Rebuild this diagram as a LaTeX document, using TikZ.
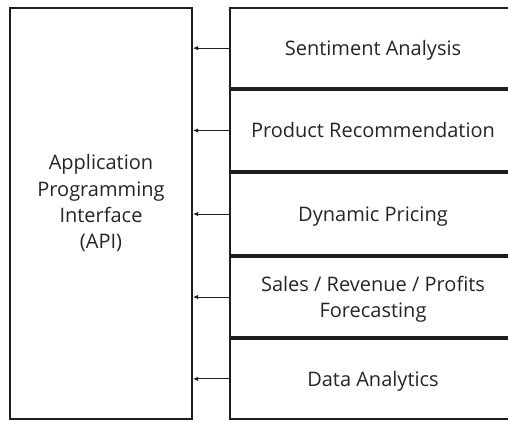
\documentclass[tikz,border=0pt]{standalone}
\usepackage{fontspec}
\setmainfont{Open Sans}
\usetikzlibrary{arrows.meta}
\definecolor{ink}{HTML}{1E1E1E}
\definecolor{txt}{HTML}{262626}
\tikzset{
  box/.style={draw=ink, line width=2pt, fill=white, inner sep=0pt, text=txt,
    font=\fontsize{20pt}{26.3pt}\selectfont, align=center,
    text height=14.3pt, text depth=0pt},
  feed/.style={draw=ink, line width=1pt, -{Latex[length=5pt,width=4.5pt]}},
}
\begin{document}
\begin{tikzpicture}[x=1pt,y=1pt]
\useasboundingbox (0,0) rectangle (508,421);
\fill[white] (0,0) rectangle (508,421);
\begin{scope}
\clip (0,0) rectangle (508,421);
% left box: x 10..192, y(top-down) 8..419
\node[box, minimum width=182pt, minimum height=411pt, text height=93.2pt, text depth=23pt] (api) at (101,207.5)
  {Application\\Programming\\Interface\\(API)};
% right boxes: x 230..516 ; boundaries (top-down) 8, 89, 172, 256, 338, 419
\node[box, minimum width=286pt, minimum height=80.25pt] (s1) at (373,372.875) {Sentiment Analysis};
\node[box, minimum width=286pt, minimum height=81.5pt] (s2) at (373,290.5) {Product Recommendation};
\node[box, minimum width=286pt, minimum height=82.5pt] (s3) at (373,207) {Dynamic Pricing};
\node[box, minimum width=286pt, minimum height=80.5pt, text height=40.6pt] (s4) at (373,124) {Sales / Revenue / Profits\\Forecasting};
\node[box, minimum width=286pt, minimum height=80.25pt] (s5) at (373,42.125) {Data Analytics};
\end{scope}
\foreach \s in {s1,s2,s3,s4,s5}{
  \draw[feed] (\s.west) -- (api.east |- \s.west);
}
\end{tikzpicture}
\end{document}
